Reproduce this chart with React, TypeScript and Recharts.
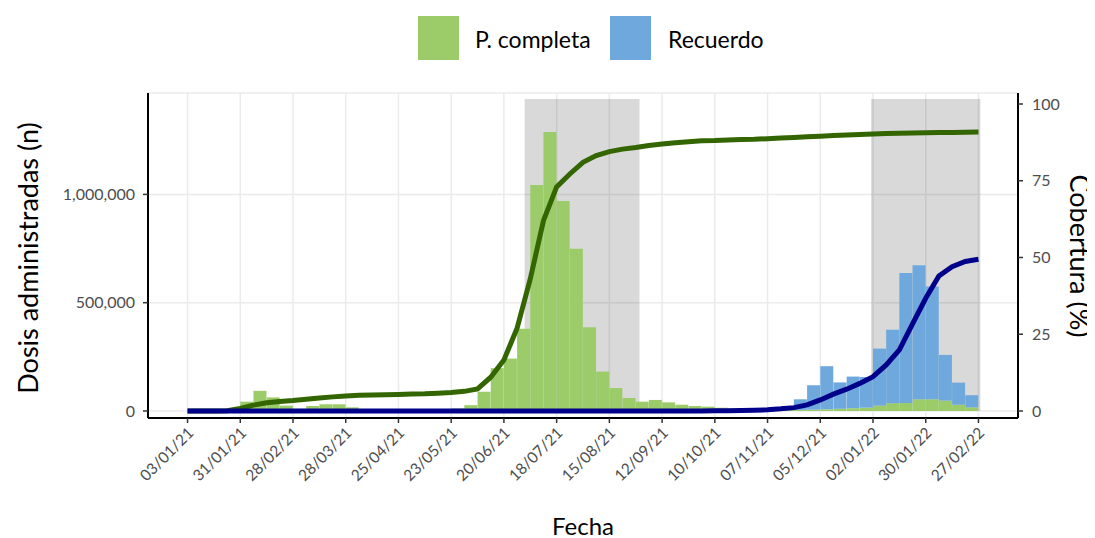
import React from "react";
import {
  ComposedChart,
  Bar,
  Line,
  XAxis,
  YAxis,
  CartesianGrid,
  ReferenceArea,
  Legend,
} from "recharts";

// semanas desde el 03/01/21 (domingo)
const FECHA_INICIO = "03/01/21";
const N_SEMANAS = 60;

// dosis semanales (n)
const pautaCompleta = [
  0, 0, 0, 0, 43000, 93000, 63000, 25000, 10000, 23000, 31000, 31000, 17000, 8000, 6000, 6000, 6000, 7000,
  8000, 9000, 12000, 27000, 89000, 198000, 242000, 380000, 1043000, 1288000, 969000, 749000, 387000,
  182000, 106000, 60000, 43000, 51000, 40000, 29000, 23000, 20000, 15000, 12000, 10000, 8000, 6000, 5000,
  5000, 6000, 8000, 10000, 13000, 15000, 25000, 36000, 37000, 54000, 54000, 48000, 29000, 17000,
];
const recuerdo = [
  0, 0, 0, 0, 0, 0, 0, 0, 0, 0, 0, 0, 0, 0, 0, 0, 0, 0, 0, 0, 0, 0, 0, 0, 0, 0, 0, 0, 0, 0, 0, 0, 0, 0, 0,
  0, 0, 0, 0, 0, 0, 0, 0, 0, 0, 5000, 49000, 113000, 199000, 122000, 146000, 142000, 263000, 339000,
  600000, 619000, 521000, 211000, 102000, 56000,
];

// cobertura acumulada (%) al inicio de cada semana
const coberturaCompleta = [
  0, 0, 0, 0.1, 0.8, 1.9, 2.7, 3.1, 3.4, 3.8, 4.2, 4.6, 4.9, 5.1, 5.2, 5.3, 5.4, 5.5, 5.6, 5.8, 6.0, 6.4,
  7.2, 11.0, 16.6, 27, 43, 62, 73, 77.2, 81, 83.2, 84.5, 85.3, 85.8, 86.5, 87.0, 87.4, 87.7, 88.0, 88.1,
  88.3, 88.4, 88.5, 88.7, 88.9, 89.1, 89.3, 89.5, 89.7, 89.9, 90.1, 90.2, 90.35, 90.45, 90.55, 90.6, 90.7,
  90.75, 90.8, 90.85,
];
const coberturaRecuerdo = [
  0, 0, 0, 0, 0, 0, 0, 0, 0, 0, 0, 0, 0, 0, 0, 0, 0, 0, 0, 0, 0, 0, 0, 0, 0, 0, 0, 0, 0, 0, 0, 0, 0, 0, 0,
  0, 0, 0, 0, 0, 0.05, 0.1, 0.15, 0.25, 0.4, 0.7, 1.1, 2.0, 3.6, 5.5, 7.1, 9.0, 11.2, 15.0, 19.9, 28.4,
  36.7, 44.0, 47.0, 48.7, 49.4,
];

const etiquetasFecha = [
  "03/01/21", "31/01/21", "28/02/21", "28/03/21", "25/04/21", "23/05/21", "20/06/21", "18/07/21",
  "15/08/21", "12/09/21", "10/10/21", "07/11/21", "05/12/21", "02/01/22", "30/01/22", "27/02/22",
];
const periodosSombreados = [
  ["01/07/21", "31/08/21"],
  ["01/01/22", "28/02/22"],
];
const ticksDosis = [0, 500000, 1000000];
const ticksCobertura = [0, 25, 50, 75, 100];

const leyenda = [
  { nombre: "P. completa", color: "#9CCC6A" },
  { nombre: "Recuerdo", color: "#6FA8DC" },
];

const FONT = "Lato, 'Open Sans', sans-serif";
const X_DOMAIN = [-21, N_SEMANAS * 7 + 21];

const toDate = (s: string) => {
  const [d, m, y] = s.split("/").map(Number);
  return Date.UTC(2000 + y, m - 1, d);
};
const toDia = (s: string) => Math.round((toDate(s) - toDate(FECHA_INICIO)) / 86400000);

const ticksX = etiquetasFecha.map(toDia);
const etiquetaPorDia = new Map(ticksX.map((d, i) => [d, etiquetasFecha[i]]));

// barras: centro de cada semana; líneas: inicio de cada semana
const barRows = pautaCompleta.map((v, i) => ({ dia: i * 7 + 3.5, completa: v, recuerdo: recuerdo[i] }));
const lineRows = coberturaCompleta.map((v, i) => ({
  dia: i * 7,
  cobCompleta: v,
  cobRecuerdo: coberturaRecuerdo[i],
}));

const DateTick = ({ x, y, payload }: any) => {
  const ax = x + 7;
  const ay = y + 9;
  return (
    <text
      x={ax}
      y={ay}
      transform={`rotate(-45 ${ax} ${ay})`}
      textAnchor="end"
      fill="#4D4D4D"
      fontSize={15.5}
      fontFamily={FONT}
    >
      {etiquetaPorDia.get(payload.value)}
    </text>
  );
};

const renderLegend = () => (
  <div style={{ position: "relative", height: 0, fontFamily: FONT }}>
    {leyenda.map((it, i) => (
      <React.Fragment key={it.nombre}>
        <div
          style={{
            position: "absolute",
            left: 410 + i * 192,
            top: 8,
            width: 41,
            height: 44,
            background: it.color,
          }}
        />
        <div
          style={{
            position: "absolute",
            left: 467 + i * 193,
            top: 16,
            fontSize: 23,
            lineHeight: "30px",
            color: "#000",
            whiteSpace: "nowrap",
          }}
        >
          {it.nombre}
        </div>
      </React.Fragment>
    ))}
  </div>
);

export default function App() {
  return (
    <div style={{ width: 1087, height: 530 }}>
      <ComposedChart
        width={1087}
        height={530}
        data={barRows}
        margin={{ top: 85, right: 0, bottom: 0, left: 0 }}
        barGap={0}
        barCategoryGap={0}
      >
        <CartesianGrid xAxisId="bars" yAxisId="left" stroke="#EBEBEB" strokeWidth={1.5} />
        {periodosSombreados.map(([a, b]) => (
          <ReferenceArea
            key={a}
            xAxisId="bars"
            yAxisId="left"
            x1={toDia(a)}
            x2={toDia(b)}
            y1={0}
            y2={1440000}
            fill="#000"
            fillOpacity={0.15}
            stroke="none"
          />
        ))}
        <XAxis
          xAxisId="bars"
          dataKey="dia"
          type="number"
          domain={X_DOMAIN}
          ticks={ticksX}
          interval={0}
          height={120}
          tick={<DateTick />}
          tickSize={5}
          axisLine={{ stroke: "#000", strokeWidth: 2 }}
          tickLine={{ stroke: "#333", strokeWidth: 1.5 }}
          allowDataOverflow
          label={{
            content: () => (
              <text x={575} y={517} textAnchor="middle" dominantBaseline="central" fontSize={24} fontFamily={FONT} fill="#000">
                Fecha
              </text>
            ),
          }}
        />
        <XAxis xAxisId="lines" dataKey="dia" type="number" domain={X_DOMAIN} allowDataOverflow hide />
        <YAxis
          yAxisId="left"
          orientation="left"
          width={140}
          domain={[-32318, 1468144]}
          ticks={ticksDosis}
          tickFormatter={(v: number) => v.toLocaleString("en-US")}
          tick={{ fill: "#4D4D4D", fontSize: 16, fontFamily: FONT }}
          tickSize={5}
          tickMargin={8}
          axisLine={{ stroke: "#000", strokeWidth: 2 }}
          tickLine={{ stroke: "#333", strokeWidth: 1.5 }}
          allowDataOverflow
          label={{
            content: () => (
              <text x={19} y={250} transform="rotate(-90 19 250)" textAnchor="middle" dominantBaseline="central" fontSize={27} fontFamily={FONT} fill="#000">
                Dosis administradas (n)
              </text>
            ),
          }}
        />
        <YAxis
          yAxisId="right"
          orientation="right"
          width={77}
          domain={[-2.28, 103.58]}
          ticks={ticksCobertura}
          tick={{ fill: "#4D4D4D", fontSize: 16, fontFamily: FONT }}
          tickSize={5}
          tickMargin={9}
          axisLine={{ stroke: "#000", strokeWidth: 2 }}
          tickLine={{ stroke: "#333", strokeWidth: 1.5 }}
          allowDataOverflow
          label={{
            content: () => (
              <text x={1072} y={248} transform="rotate(90 1072 248)" textAnchor="middle" dominantBaseline="central" fontSize={27} fontFamily={FONT} fill="#000">
                Cobertura (%)
              </text>
            ),
          }}
        />
        <Legend verticalAlign="top" content={renderLegend} wrapperStyle={{ top: 0, left: 0, width: 1087, height: 0 }} />
        <Bar xAxisId="bars" yAxisId="left" dataKey="completa" stackId="s" fill={leyenda[0].color} isAnimationActive={false} />
        <Bar xAxisId="bars" yAxisId="left" dataKey="recuerdo" stackId="s" fill={leyenda[1].color} isAnimationActive={false} />
        <Line
          xAxisId="lines"
          yAxisId="right"
          data={lineRows}
          dataKey="cobCompleta"
          type="linear"
          stroke="#336600"
          strokeWidth={5}
          dot={false}
          isAnimationActive={false}
        />
        <Line
          xAxisId="lines"
          yAxisId="right"
          data={lineRows}
          dataKey="cobRecuerdo"
          type="linear"
          stroke="#00008B"
          strokeWidth={5}
          dot={false}
          isAnimationActive={false}
        />
      </ComposedChart>
    </div>
  );
}
